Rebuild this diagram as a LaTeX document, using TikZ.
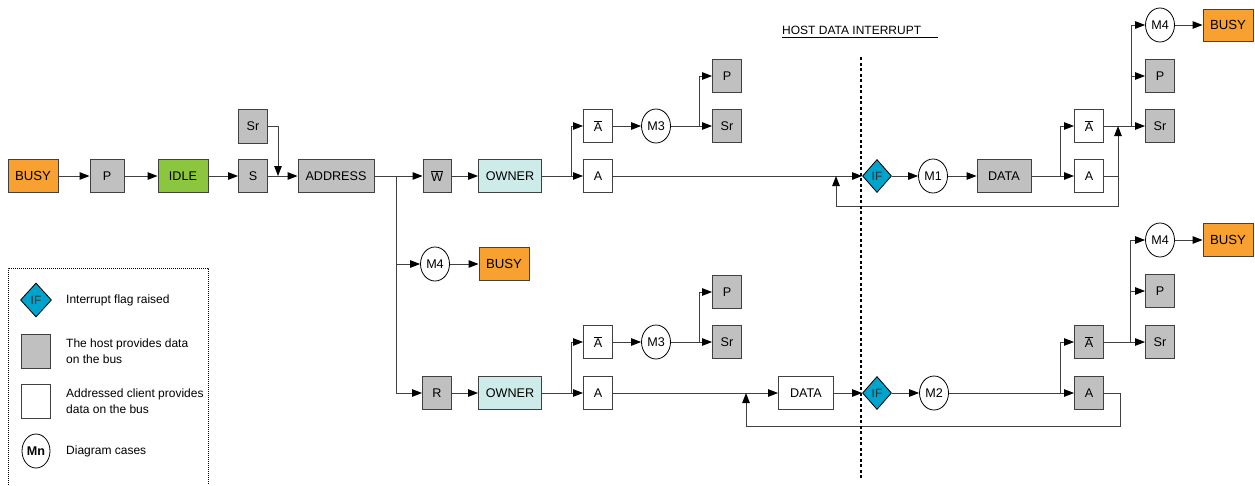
\documentclass[tikz,border=0pt]{standalone}
\usepackage{fontspec}
\setmainfont{Liberation Sans}
\usetikzlibrary{arrows.meta,shapes.geometric}
\definecolor{busyor}{HTML}{F8A030}
\definecolor{idlegr}{HTML}{8CC63F}
\definecolor{hostgr}{HTML}{C0C0C0}
\definecolor{ownbl}{HTML}{CDEBE8}
\definecolor{flagbl}{HTML}{00A3CC}
\definecolor{wire}{HTML}{404040}
\newcommand{\ov}[1]{$\overline{\hbox{#1}}$}

\begin{document}
\begin{tikzpicture}[x=1pt,y=-1pt,
  font=\fontsize{12}{16}\selectfont,
  box/.style={draw=wire,line width=0.9pt,minimum height=33pt,minimum width=29pt,inner sep=0pt,
    font=\fontsize{12.6}{15}\selectfont},
  hostbox/.style={box,fill=hostgr},
  clientbox/.style={box,fill=white},
  busybox/.style={box,fill=busyor,minimum width=50pt,font=\fontsize{13.2}{15}\selectfont},
  ownbox/.style={box,fill=ownbl,minimum width=63pt},
  casecirc/.style={ellipse,draw=black,line width=0.8pt,fill=white,minimum width=29pt,minimum height=34pt,inner sep=0pt,
    font=\fontsize{12.6}{15}\selectfont},
  flag/.style={diamond,draw=black,fill=flagbl,text=black!80,line width=0.8pt,minimum width=29pt,minimum height=33pt,inner sep=0pt},
  arr/.style={draw=wire,line width=1pt,-{Triangle[length=10pt,width=7.5pt,color=black]}},
  wireln/.style={draw=wire,line width=1pt}]
  \useasboundingbox (0,0) rectangle (1255,485);

  % start of the transfer
  \node[busybox] (busy0) at (33,176) {BUSY};
  \node[hostbox,minimum width=34pt] (p0) at (107,176) {P};
  \node[box,fill=idlegr,minimum width=50pt] (idle) at (183,176) {IDLE};
  \node[hostbox] (s0) at (253,176) {S};
  \node[hostbox,minimum height=34pt] (sr0) at (253,126) {Sr};
  \node[hostbox,minimum width=76pt] (addr) at (336,176) {ADDRESS};
  \node[hostbox,minimum width=28pt] (wbar) at (437,176) {\ov{W}};
  \node[hostbox] (rd) at (437,393) {R};
  \node[ownbox] (own1) at (510,176) {OWNER};
  \node[ownbox] (own2) at (510,393) {OWNER};
  \node[casecirc] (m4b) at (435,264) {M4};
  \node[busybox] (busyb) at (504,264) {BUSY};

  % acknowledge groups
  \foreach \n/\x/\y/\t in {abar1/598/126/\ov{A}, a1/598/176/A, abar3/598/342/\ov{A},
      a3/598/393/A, abar2/1089/126/\ov{A}, a2/1089/176/A}
    \node[clientbox] (\n) at (\x,\y) {\t};
  \foreach \n/\x/\y/\t in {p1/727/76/P, sr1/727/126/Sr, p3/727/292/P, sr3/727/342/Sr,
      sr2/1160/126/Sr, p2/1160/76/P, abar4/1089/342/\ov{A}, a4/1089/393/A,
      sr4/1160/342/Sr, p4/1160/291/P}
    \node[hostbox] (\n) at (\x,\y) {\t};
  \foreach \n/\x/\y/\t in {m3a/656/126/M3, m3b/656/342/M3, m1/933/176/M1, m2/934/393/M2,
      m4a/1160/25/M4, m4c/1160/240/M4}
    \node[casecirc] (\n) at (\x,\y) {\t};
  \node[busybox,minimum height=32pt] (busy2) at (1228,25) {BUSY};
  \node[busybox] (busy3) at (1228,240) {BUSY};
  \node[flag] (if1) at (877,176) {IF};
  \node[flag] (if2) at (877,393) {IF};
  \node[hostbox,minimum width=54pt] (data1) at (1004,176) {DATA};
  \node[clientbox,minimum width=55pt] (data2) at (806,393) {DATA};

  % branch points
  \coordinate (jS) at (278,176);
  \coordinate (jA) at (396,176);
  \coordinate (jO1) at (571,176); \coordinate (jO2) at (571,393);
  \coordinate (jM1) at (699,126); \coordinate (jM2) at (699,342);
  \coordinate (jD1) at (1060,176); \coordinate (jD2) at (1060,393);
  \coordinate (jB1) at (1131,126); \coordinate (jB2) at (1130,342);
  \coordinate (jL1) at (1118,176); \coordinate (jU1) at (1118,126);
  \coordinate (jF1) at (836,176); \coordinate (jF2) at (746,393);

  \foreach \a/\b in {busy0/p0,p0/idle,idle/s0,s0/addr,addr/wbar,wbar/own1,own1/a1,
      abar1/m3a,m3a/sr1,a1/if1,if1/m1,m1/data1,data1/a2,abar2/sr2,m4a/busy2,
      m4b/busyb,rd/own2,own2/a3,abar3/m3b,m3b/sr3,a3/data2,data2/if2,if2/m2,m2/a4,
      abar4/sr4,m4c/busy3}
    \draw[arr] (\a) -- (\b);
  \draw[arr] (sr0) -| (jS);
  \draw[arr] (jA) |- (m4b);
  \draw[arr] (jA) |- (rd);
  \draw[arr] (jO1) |- (abar1);
  \draw[arr] (jO2) |- (abar3);
  \draw[arr] (jM1) |- (p1);
  \draw[arr] (jM2) |- (p3);
  \draw[arr] (jD1) |- (abar2);
  \draw[arr] (jD2) |- (abar4);
  \foreach \t in {p2,m4a} \draw[arr] (jB1) |- (\t);
  \foreach \t in {p4,m4c} \draw[arr] (jB2) |- (\t);
  % return loops
  \draw[arr] (a2) -| (jU1);
  \draw[arr] (jL1) -- ++(0,30) -| (jF1);
  \draw[arr] (a4.east) -- ++(17,0) -- ++(0,33) -| (jF2);

  % interrupt line
  \draw[line width=2.2pt,dash pattern=on 3pt off 2.5pt] (861,57) -- (861,478);
  \node[anchor=west,inner sep=0pt] (hdi) at (782,30) {HOST DATA INTERRUPT};
  \draw[line width=0.8pt] (782,37) -- (938,37);

  % legend
  \draw[line width=0.8pt,dash pattern=on 1pt off 1pt] (8,485) -- (8,268) -- (208,268) -- (208,485);
  \node[flag,minimum width=31pt,minimum height=34pt] (lgif) at (36,300) {IF};
  \node[hostbox,minimum height=34pt] (lghost) at (36,351) {};
  \node[clientbox,minimum height=34pt] (lgclient) at (36,401) {};
  \node[casecirc,minimum width=28pt] (lgcase) at (36,451) {\bfseries Mn};
  \node[anchor=west,align=left,inner sep=0pt] (lgiftxt) at (66,300) {Interrupt flag raised};
  \node[anchor=west,align=left,inner sep=0pt] (lghosttxt) at (66,351) {The host provides data\\on the bus};
  \node[anchor=west,align=left,inner sep=0pt] (lgclienttxt) at (66,401) {Addressed client provides\\data on the bus};
  \node[anchor=west,align=left,inner sep=0pt] (lgcasetxt) at (66,451) {Diagram cases};
\end{tikzpicture}
\end{document}
